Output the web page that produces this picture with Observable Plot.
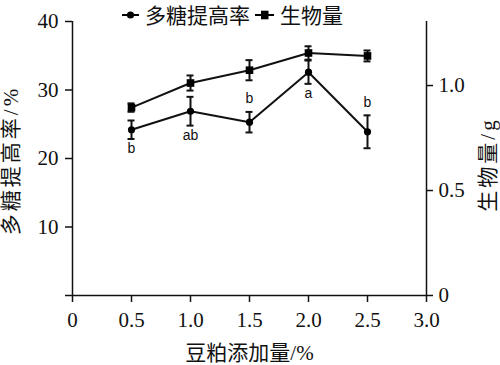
<!DOCTYPE html>
<html><head><meta charset="utf-8">
<script src="https://cdn.jsdelivr.net/npm/d3@7"></script>
<script src="https://cdn.jsdelivr.net/npm/@observablehq/plot@0.6"></script>
<style>
body{margin:0;background:#fff;}
#wrap{position:relative;width:500px;height:365px;overflow:hidden;}
#legend{position:absolute;left:122px;top:4px;display:flex;align-items:center;height:21px;font:21px 'Noto Sans CJK SC',sans-serif;line-height:21px;color:#111;}
#legend svg{display:block;}
#chart svg [aria-label$="label"] text{font-family:'Liberation Serif','Noto Sans CJK SC',serif;font-size:21px;}
</style></head><body>
<div id="wrap"><div id="chart"></div><div id="legend"></div></div>
<script>
const doses = [0.5, 1.0, 1.5, 2.0, 2.5];
const polyRate = [24.2, 26.9, 25.3, 32.6, 23.9];
const polyErr = [1.35, 2.1, 1.5, 1.7, 2.4];
const biomass = [0.895, 1.012, 1.073, 1.155, 1.141];
const biomassErr = [0.02, 0.036, 0.048, 0.032, 0.026];
const sigLetters = ["b", "ab", "b", "a", "b"];
const sigSide = ["below", "below", "above", "below", "above"];
const xTicks = [0, 0.5, 1.0, 1.5, 2.0, 2.5, 3.0];
const leftTicks = [0, 10, 20, 30, 40];
const rightTicks = [0, 0.5, 1.0];
const leftMax = 40, rightMax = 1.305, xMax = 3.0;
const seriesNames = ["多糖提高率", "生物量"];
const xLabel = "豆粕添加量/%";
const leftLabel = "多糖提高率/%";
const rightLabel = "生物量/g";

const toLeft = d3.scaleLinear([0, rightMax], [0, leftMax]);
const poly = doses.map((x, i) => ({x, y: polyRate[i], e: polyErr[i], t: sigLetters[i], side: sigSide[i]}));
const bio = doses.map((x, i) => ({x, y: toLeft(biomass[i]), lo: toLeft(biomass[i] - biomassErr[i]), hi: toLeft(biomass[i] + biomassErr[i])}));
const fmtX = d => d === 0 ? "0" : d.toFixed(1);
const fmtR = v => { const r = Math.round(toLeft.invert(v) * 10) / 10; return r === 0 ? "0" : r.toFixed(1); };
const labelFont = "'Liberation Serif','Noto Sans CJK SC',serif";

const plot = Plot.plot({
  width: 500, height: 365,
  marginLeft: 72, marginRight: 74, marginTop: 21, marginBottom: 70,
  style: {fontFamily: labelFont, fontSize: "20px", color: "#111", background: "#fff"},
  x: {domain: [0, xMax]},
  y: {domain: [0, leftMax]},
  marks: [
    Plot.axisX(xTicks, {tickFormat: fmtX, tickSize: 7, tickPadding: 10, strokeWidth: 1.5, label: xLabel, labelAnchor: "center", labelArrow: "none", labelOffset: 64}),
    Plot.axisY(leftTicks, {anchor: "left", tickFormat: d => d === 0 ? "" : String(d), tickSize: 7, tickPadding: 7, strokeWidth: 1.5, label: null}),
    Plot.axisY(rightTicks.map(toLeft), {anchor: "right", tickFormat: fmtR, tickSize: 6, tickPadding: 6, strokeWidth: 1.5, label: null}),
    Plot.text([leftLabel], {frameAnchor: "left", text: d => d, rotate: -90, textAnchor: "middle", lineAnchor: "middle", dx: -61, dy: 2, fontSize: 21, fontFamily: labelFont}),
    Plot.text([rightLabel], {frameAnchor: "right", text: d => d, rotate: -90, textAnchor: "middle", lineAnchor: "middle", dx: 62, dy: 6, fontSize: 21, fontFamily: labelFont}),
    Plot.ruleY([0], {strokeWidth: 1.5}),
    Plot.ruleX([0], {strokeWidth: 1.5}),
    Plot.ruleX([xMax], {strokeWidth: 1.5}),
    // biomass series
    Plot.line(bio, {x: "x", y: "y", strokeWidth: 2}),
    Plot.ruleX(bio, {x: "x", y1: "lo", y2: "hi", strokeWidth: 2}),
    Plot.ruleY(bio, {x1: "x", x2: "x", y: "lo", insetLeft: -3.5, insetRight: -3.5, strokeWidth: 2}),
    Plot.ruleY(bio, {x1: "x", x2: "x", y: "hi", insetLeft: -3.5, insetRight: -3.5, strokeWidth: 2}),
    Plot.dot(bio, {x: "x", y: "y", symbol: "square", r: 4.3, fill: "#000", stroke: "none"}),
    // polysaccharide series
    Plot.line(poly, {x: "x", y: "y", strokeWidth: 2}),
    Plot.ruleX(poly, {x: "x", y1: d => d.y - d.e, y2: d => d.y + d.e, strokeWidth: 2}),
    Plot.ruleY(poly, {x1: "x", x2: "x", y: d => d.y - d.e, insetLeft: -3.5, insetRight: -3.5, strokeWidth: 2}),
    Plot.ruleY(poly, {x1: "x", x2: "x", y: d => d.y + d.e, insetLeft: -3.5, insetRight: -3.5, strokeWidth: 2}),
    Plot.dot(poly, {x: "x", y: "y", r: 3.6, fill: "#000", stroke: "none"}),
    Plot.text(poly.filter(d => d.side === "below"), {x: "x", y: d => d.y - d.e, text: "t", dy: 10, fontFamily: "'Liberation Sans',Arial,sans-serif", fontSize: 14}),
    Plot.text(poly.filter(d => d.side === "above"), {x: "x", y: d => d.y + d.e, text: "t", dy: -13, fontFamily: "'Liberation Sans',Arial,sans-serif", fontSize: 14})
  ]
});
d3.select(plot).selectAll("text")
  .filter(function () { return this.textContent === leftLabel || this.textContent === rightLabel; })
  .attr("letter-spacing", 3);
document.getElementById("chart").appendChild(plot);

const lg = document.getElementById("legend");
lg.innerHTML =
  `<svg width="17" height="12"><line x1="0" x2="17" y1="6" y2="6" stroke="#000" stroke-width="2"/><circle cx="8.5" cy="6" r="3.6" fill="#000"/></svg>` +
  `<span style="margin-left:6px">${seriesNames[0]}</span>` +
  `<svg style="margin-left:5px" width="19" height="12"><line x1="0" x2="19" y1="6" y2="6" stroke="#000" stroke-width="2"/><rect x="6" y="1.7" width="7.5" height="8.6" fill="#000"/></svg>` +
  `<span style="margin-left:6px">${seriesNames[1]}</span>`;
</script>
</body></html>
